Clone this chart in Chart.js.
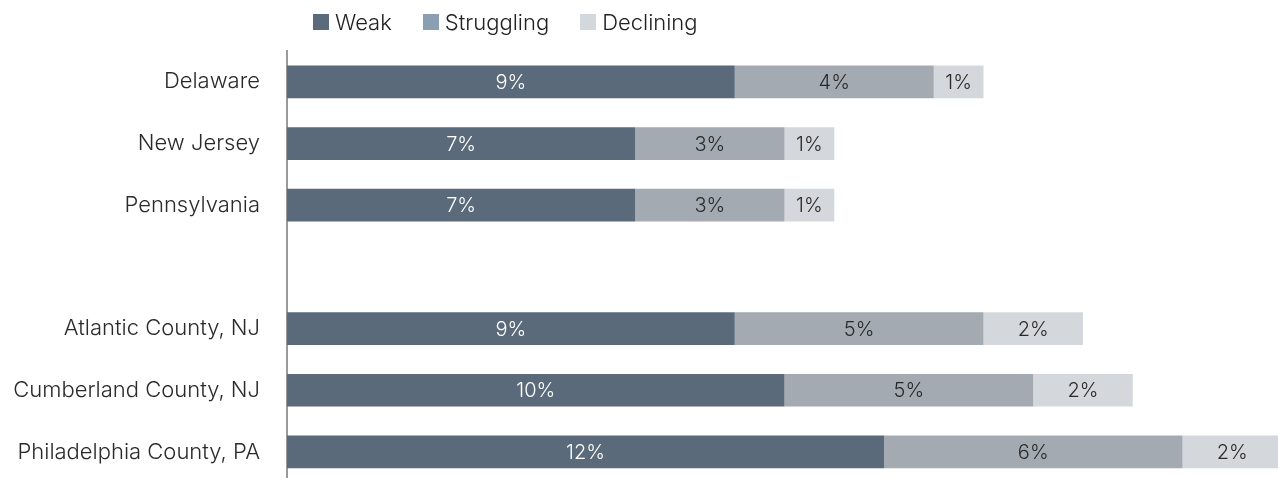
<!DOCTYPE html>
<html>
<head>
<meta charset="utf-8">
<script src="https://cdn.jsdelivr.net/npm/chart.js@4.4.1/dist/chart.umd.min.js"></script>
<style>
  html, body { margin: 0; padding: 0; background: #fff; overflow: hidden; }
  #wrap { position: relative; width: 1290px; height: 515px; }
  #legend {
    position: absolute; top: 8px; left: 313px; display: flex; align-items: center;
    font-family: 'Inter', sans-serif; font-weight: 300; font-size: 22px; color: #222;
    line-height: 28px;
  }
  #legend span.box { display: inline-block; width: 16px; height: 16px; margin-right: 6px; }
  #legend .item { display: flex; align-items: center; margin-right: 31px; }
</style>
</head>
<body>
<div id="wrap">
  <canvas id="chart" width="1290" height="515"></canvas>
  <div id="legend"></div>
</div>
<script>
const categories = ['Delaware', 'New Jersey', 'Pennsylvania', '', 'Atlantic County, NJ', 'Cumberland County, NJ', 'Philadelphia County, PA']
const weak = [9, 7, 7, null, 9, 10, 12]
const struggling = [4, 3, 3, null, 5, 5, 6]
const declining = [1, 1, 1, null, 2, 2, 2]

const barColors = ['#5a6a7a', '#a3aab1', '#d4d8dc']
const legendColors = ['#5b6b7b', '#8aa0b2', '#d3d8dc']
const labelColors = ['#ffffff', '#2a2a2a', '#2a2a2a']
const seriesNames = ['Weak', 'Struggling', 'Declining']

const legendEl = document.getElementById('legend')
seriesNames.forEach((name, i) => {
  const item = document.createElement('div')
  item.className = 'item'
  item.innerHTML = '<span class="box" style="background:' + legendColors[i] + '"></span>' + name
  legendEl.appendChild(item)
})

const barLabels = {
  id: 'barLabels',
  afterDatasetsDraw(chart) {
    const ctx = chart.ctx
    ctx.save()
    ctx.font = '300 20px "Inter", sans-serif'
    ctx.textAlign = 'center'
    ctx.textBaseline = 'middle'
    chart.data.datasets.forEach((ds, di) => {
      chart.getDatasetMeta(di).data.forEach((bar, i) => {
        const v = ds.data[i]
        if (v == null) return
        const p = bar.getProps(['x', 'y', 'base'], true)
        ctx.fillStyle = labelColors[di]
        ctx.fillText(v + '%', (p.x + p.base) / 2, p.y + 1)
      })
    })
    ctx.restore()
  }
}

Chart.defaults.font.family = "'Inter', sans-serif"

new Chart(document.getElementById('chart'), {
  type: 'bar',
  data: {
    labels: categories,
    datasets: [
      { label: seriesNames[0], data: weak, backgroundColor: barColors[0] },
      { label: seriesNames[1], data: struggling, backgroundColor: barColors[1] },
      { label: seriesNames[2], data: declining, backgroundColor: barColors[2] },
    ],
  },
  options: {
    indexAxis: 'y',
    responsive: false,
    animation: false,
    layout: { padding: { top: 51, bottom: 17, left: 0, right: 8 } },
    datasets: { bar: { categoryPercentage: 1, barPercentage: 0.53 } },
    plugins: {
      legend: { display: false },
      tooltip: { enabled: false },
    },
    scales: {
      x: {
        stacked: true,
        min: 0,
        max: 20,
        display: false,
      },
      y: {
        stacked: true,
        grid: { display: false },
        border: { display: true, color: '#9a9a9a', width: 2 },
        ticks: {
          padding: 19,
          color: '#2a2a2a',
          font: { size: 22, weight: 300 },
        },
        afterFit: function (scale) {
          scale.width = 287
        },
      },
    },
  },
  plugins: [barLabels],
})
</script>
</body>
</html>
